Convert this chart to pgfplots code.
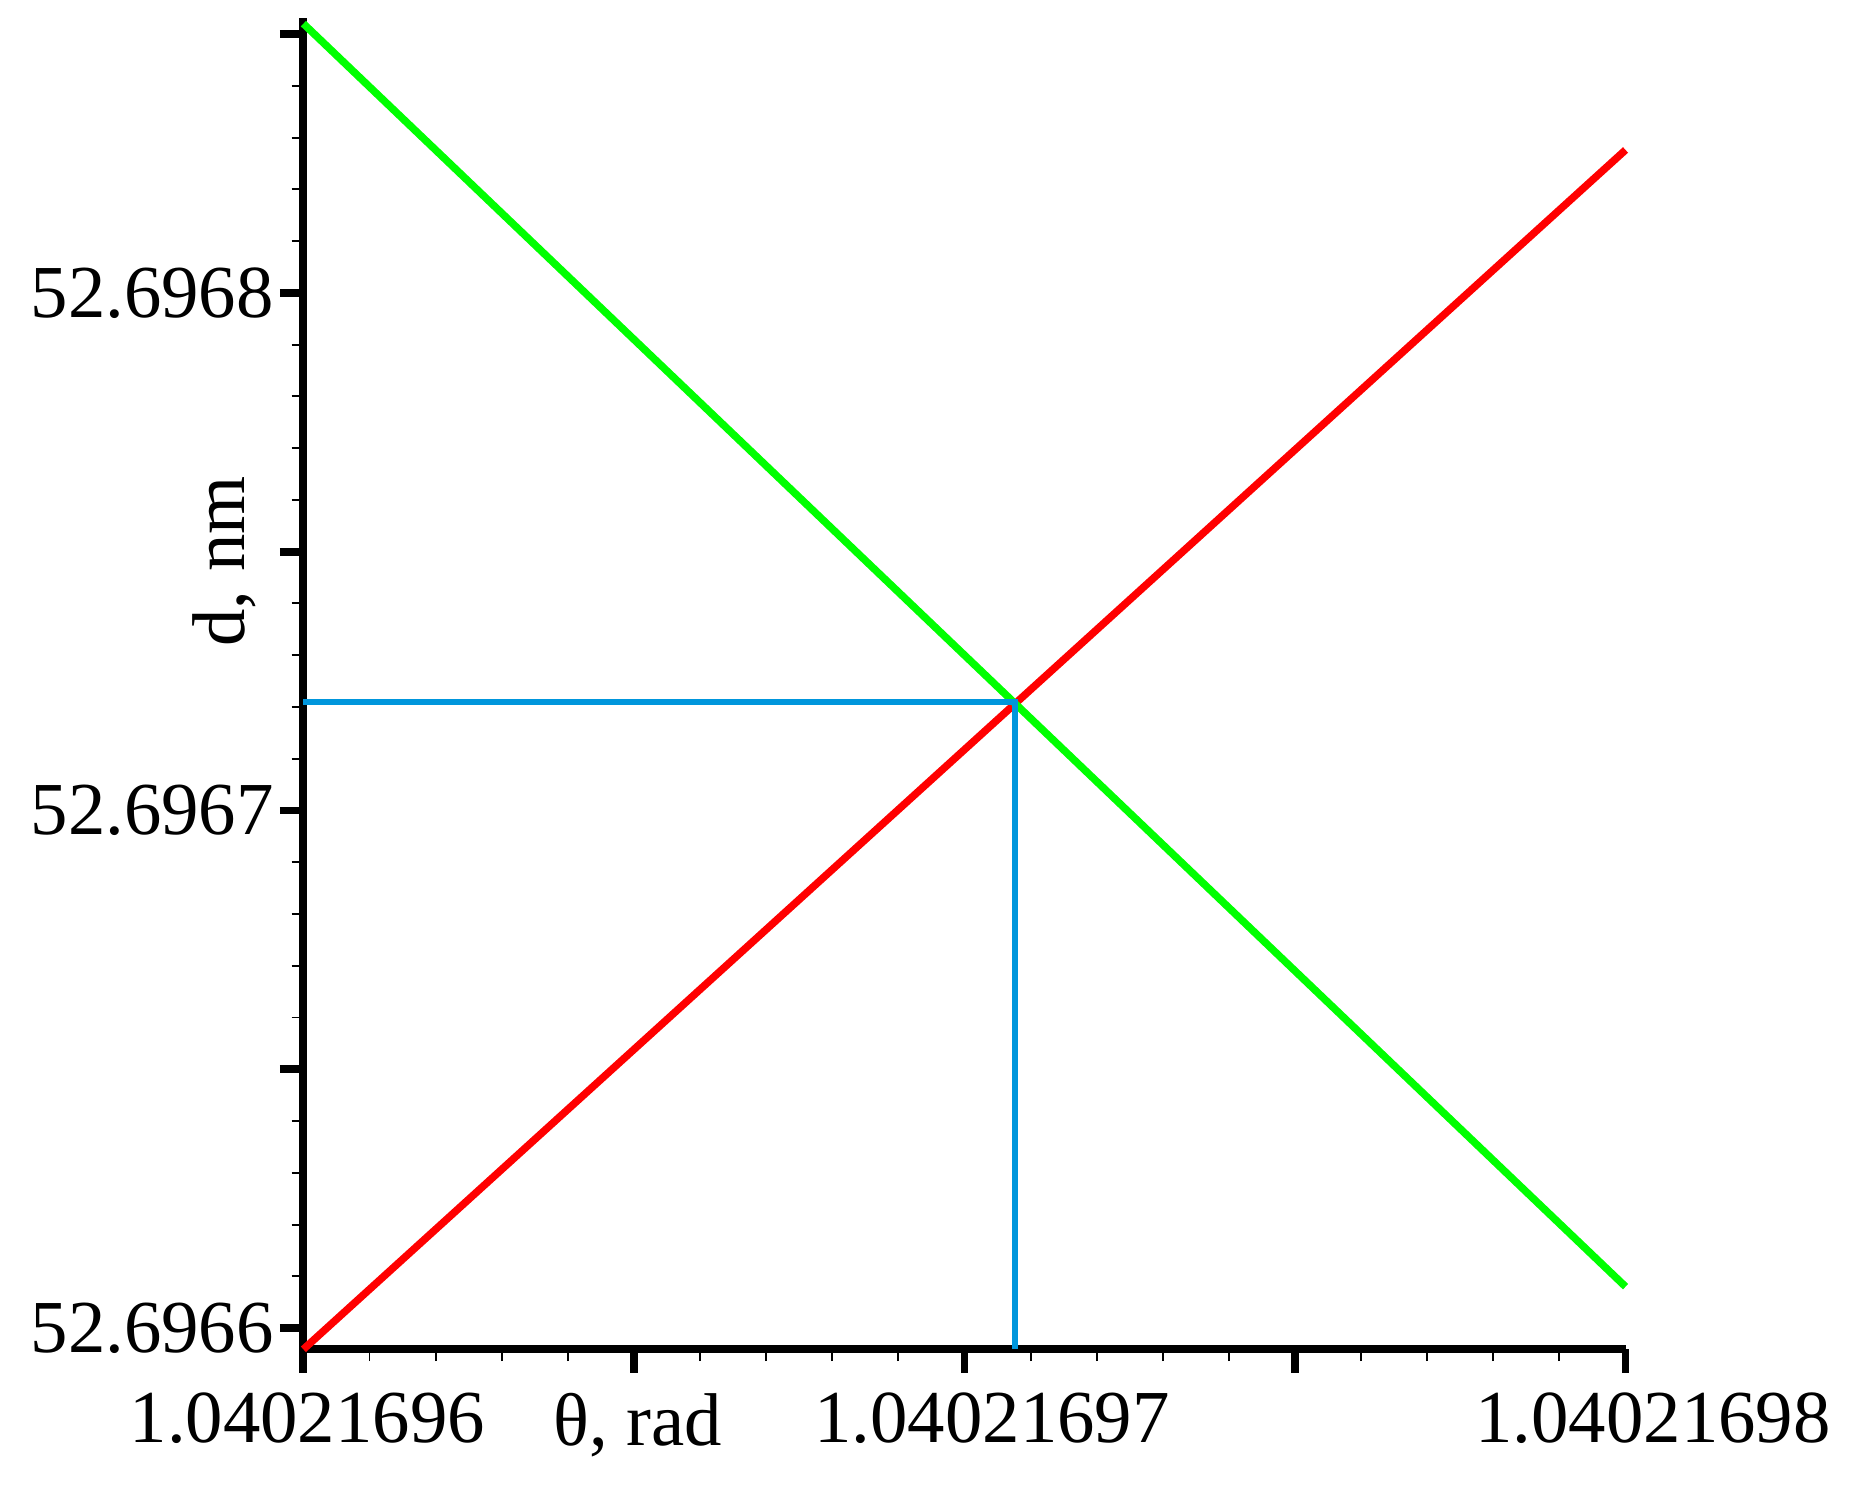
\documentclass[border=0pt]{standalone}
\usepackage{fontspec}
\setmainfont{Liberation Serif}
\usepackage{pgfplots}
\pgfplotsset{compat=1.18}
\definecolor{cgreen}{RGB}{0,255,0}
\definecolor{cred}{RGB}{255,0,0}
\definecolor{cblue}{RGB}{0,150,220}
% x in units of 1e-9 rad above 1.04021696; y in units of 1e-5 nm above 52.6966
\begin{document}
\begin{tikzpicture}
\path[use as bounding box] (-77.1pt,-37.8pt) rectangle (393.3pt,342.9pt);
\begin{axis}[
  at={(0,0)}, anchor=south west, scale only axis,
  width=336pt, height=338.2pt,
  xmin=0, xmax=20, ymin=-0.41, ymax=25.3,
  clip=false,
  axis lines*=left,
  axis line style={line width=2pt, black},
  xtick={0,5,10,15,20},
  xticklabels={{\kern-12pt 1.04021696},{\kern-12pt θ, rad},1.04021697,,1.04021698},
  ytick={0,5,10,15,20,25},
  yticklabels={52.6966,,52.6967,,52.6968,},
  minor x tick num=4, minor y tick num=4,
  tick align=outside,
  major tick length=6pt, minor tick length=3pt,
  every major tick/.append style={line width=2pt, black},
  every minor tick/.append style={line width=0.5pt, black},
  tick label style={font=\fontsize{19}{21}\selectfont, black},
  xticklabel style={xshift=7pt, yshift=-1.5pt},
  yticklabel style={xshift=2pt},
]
\addplot[cred, line width=1.9pt] coordinates {(0,-0.41) (20,22.76)};
\addplot[cgreen, line width=1.9pt] coordinates {(0,25.2) (20,0.80)};
\addplot[cblue, line width=1.5pt] coordinates {(0,12.09) (10.77,12.09) (10.77,-0.41)};
\path (axis cs:0,15) ++(-20pt,-2.5pt) node[rotate=90, font=\fontsize{19}{21}\selectfont] {d, nm};
\end{axis}
\end{tikzpicture}
\end{document}
